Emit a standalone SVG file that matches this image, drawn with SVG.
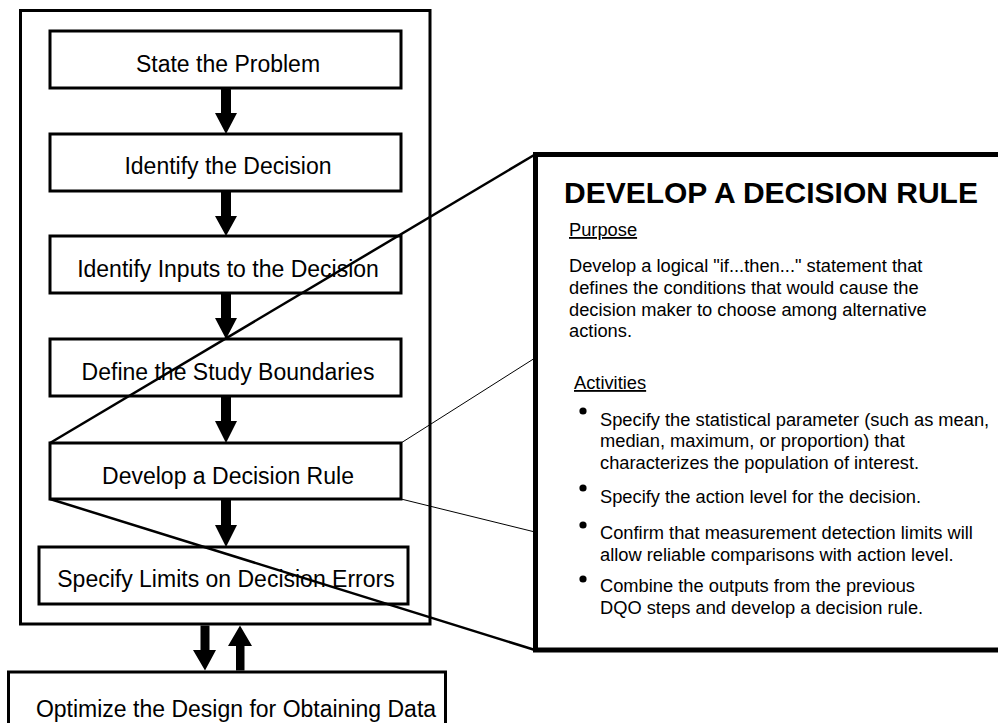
<svg xmlns="http://www.w3.org/2000/svg" width="998" height="723" viewBox="0 0 998 723">
<defs>
<style>
.box{fill:#fff;stroke:#000;stroke-width:3}
.lbl{font-family:"Liberation Sans",Arial,sans-serif;font-size:23px;fill:#000;text-anchor:middle}
.body{font-family:"Liberation Sans",Arial,sans-serif;font-size:18.3px;fill:#000}
.title{font-family:"Liberation Sans",Arial,sans-serif;font-size:30px;font-weight:bold;fill:#000}
.arrow{fill:#000;stroke:none}
</style>
</defs>
<rect width="998" height="723" fill="#fff"/>
<g id="outer-frame"><rect class="box" x="20.5" y="10.5" width="409.5" height="613.5" fill="none"/></g>
<g id="n1"><rect class="box" x="50" y="31" width="351" height="57"/><text class="lbl" x="228" y="72">State the Problem</text></g>
<g id="n2"><rect class="box" x="50" y="134" width="351" height="57"/><text class="lbl" x="228" y="174">Identify the Decision</text></g>
<g id="n3"><rect class="box" x="50" y="236" width="351" height="57"/><text class="lbl" x="228" y="277">Identify Inputs to the Decision</text></g>
<g id="n4"><rect class="box" x="50" y="339" width="351" height="57"/><text class="lbl" x="228" y="380">Define the Study Boundaries</text></g>
<g id="n5"><rect class="box" x="50" y="443" width="351" height="56"/><text class="lbl" x="228" y="484">Develop a Decision Rule</text></g>
<g id="n6"><rect class="box" x="39" y="547" width="369" height="57"/><text class="lbl" x="226" y="587">Specify Limits on Decision Errors</text></g>
<g id="n7"><rect class="box" x="8.5" y="672" width="437" height="60"/><text class="lbl" x="236" y="717">Optimize the Design for Obtaining Data</text></g>
<g id="connectors">
<path class="arrow" d="M221 88H231V113H237L226 134L215 113H221Z"/>
<path class="arrow" d="M221 191H231V216H237L226 236L215 216H221Z"/>
<path class="arrow" d="M221 293H231V318H237L226 339L215 318H221Z"/>
<path class="arrow" d="M221 396H231V421H237L226 443L215 421H221Z"/>
<path class="arrow" d="M221 499H231V525H237L226 547L215 525H221Z"/>
<path class="arrow" d="M200.5 625.5H209.5V650H216L205 670.5L193 650H200.5Z"/>
<path class="arrow" d="M236 670.5H244.5V646H252L240 625.5L228 646H236Z"/>
<line x1="50" y1="443" x2="535" y2="154.5" stroke="#000" stroke-width="2.5"/>
<line x1="50" y1="499" x2="535" y2="650" stroke="#000" stroke-width="2.5"/>
<line x1="401" y1="443" x2="535" y2="358" stroke="#000" stroke-width="1"/>
<line x1="401" y1="499" x2="535" y2="532" stroke="#000" stroke-width="1"/>
</g>
<g id="detail-panel">
<path d="M1005 154.5H535.5V650H1005" fill="#fff" stroke="#000" stroke-width="5"/>
<text class="title" x="564" y="203">DEVELOP A DECISION RULE</text>
<text class="body" x="569" y="236" text-decoration="underline">Purpose</text>
<text class="body" x="569" y="272">Develop a logical "if...then..." statement that</text>
<text class="body" x="569" y="294">defines the conditions that would cause the</text>
<text class="body" x="569" y="316">decision maker to choose among alternative</text>
<text class="body" x="569" y="337">actions.</text>
<text class="body" x="574" y="389" text-decoration="underline">Activities</text>
<circle cx="583" cy="411" r="3.6"/>
<circle cx="583" cy="488" r="3.6"/>
<circle cx="583" cy="525" r="3.6"/>
<circle cx="583" cy="579" r="3.6"/>
<text class="body" x="600" y="426">Specify the statistical parameter (such as mean,</text>
<text class="body" x="600" y="447">median, maximum, or proportion) that</text>
<text class="body" x="600" y="469">characterizes the population of interest.</text>
<text class="body" x="600" y="503">Specify the action level for the decision.</text>
<text class="body" x="600" y="539">Confirm that measurement detection limits will</text>
<text class="body" x="600" y="561">allow reliable comparisons with action level.</text>
<text class="body" x="600" y="592">Combine the outputs from the previous</text>
<text class="body" x="600" y="614">DQO steps and develop a decision rule.</text>
</g>
</svg>
